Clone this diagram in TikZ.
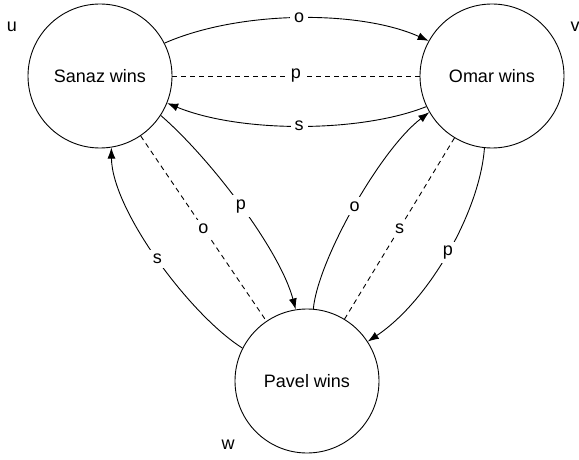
\documentclass[tikz,border=0pt]{standalone}
\usepackage{fontspec}
\setmainfont{Liberation Sans}
\usetikzlibrary{arrows.meta}
\begin{document}
\begin{tikzpicture}[x=1pt,y=-1pt,
  state/.style={draw,circle,minimum size=144pt,inner sep=0pt,line width=0.9pt,font=\fontsize{18}{22}\selectfont},
  edge/.style={line width=0.9pt,-{Latex[length=11pt,width=8pt]}},
  dedge/.style={line width=0.9pt,dash pattern=on 5pt off 4pt},
  lab/.style={fill=white,inner sep=4pt,font=\fontsize{18}{22}\selectfont},
  corner/.style={font=\fontsize{18}{22}\selectfont,inner sep=0pt}]
\useasboundingbox (0,0) rectangle (579,460);
\node[state] (S) at (100,76) {Sanaz wins};
\node[state] (O) at (492,76) {Omar wins};
\node[state] (P) at (307,381) {Pavel wins};
\node[corner] (u) at (12,27) {u};
\node[corner] (v) at (575,27) {v};
\node[corner] (w) at (228,445) {w};
% Sanaz -> Omar, o
\draw[edge] (S.27) .. controls (240,10) and (360,10) .. node[lab]{o} (O.151);
% dashed p
\draw[dedge] (S.east) -- node[lab]{p} (O.west);
% Omar -> Sanaz, s
\draw[edge] (O.205) .. controls (360,133) and (240,133) .. node[lab]{s} (S.338);
% Sanaz -> Pavel, p
\draw[edge] (S.327) .. controls (210,158) and (280,250) .. node[lab]{p} (P.99);
% dashed o Sanaz--Pavel
\draw[dedge] (S) -- node[lab]{o} (P);
% Pavel -> Sanaz, s
\draw[edge] (P.153) .. controls (190,315) and (112,210) .. node[lab]{s} (S.279);
% Pavel -> Omar, o
\draw[edge] (P.85) .. controls (318,260) and (380,150) .. node[lab]{o} (O.210);
% dashed s Pavel--Omar
\draw[dedge] (O) -- node[lab]{s} (P);
% Omar -> Pavel, p
\draw[edge] (O.264) .. controls (480,210) and (430,300) .. node[lab]{p} (P.33);
\end{tikzpicture}
\end{document}
